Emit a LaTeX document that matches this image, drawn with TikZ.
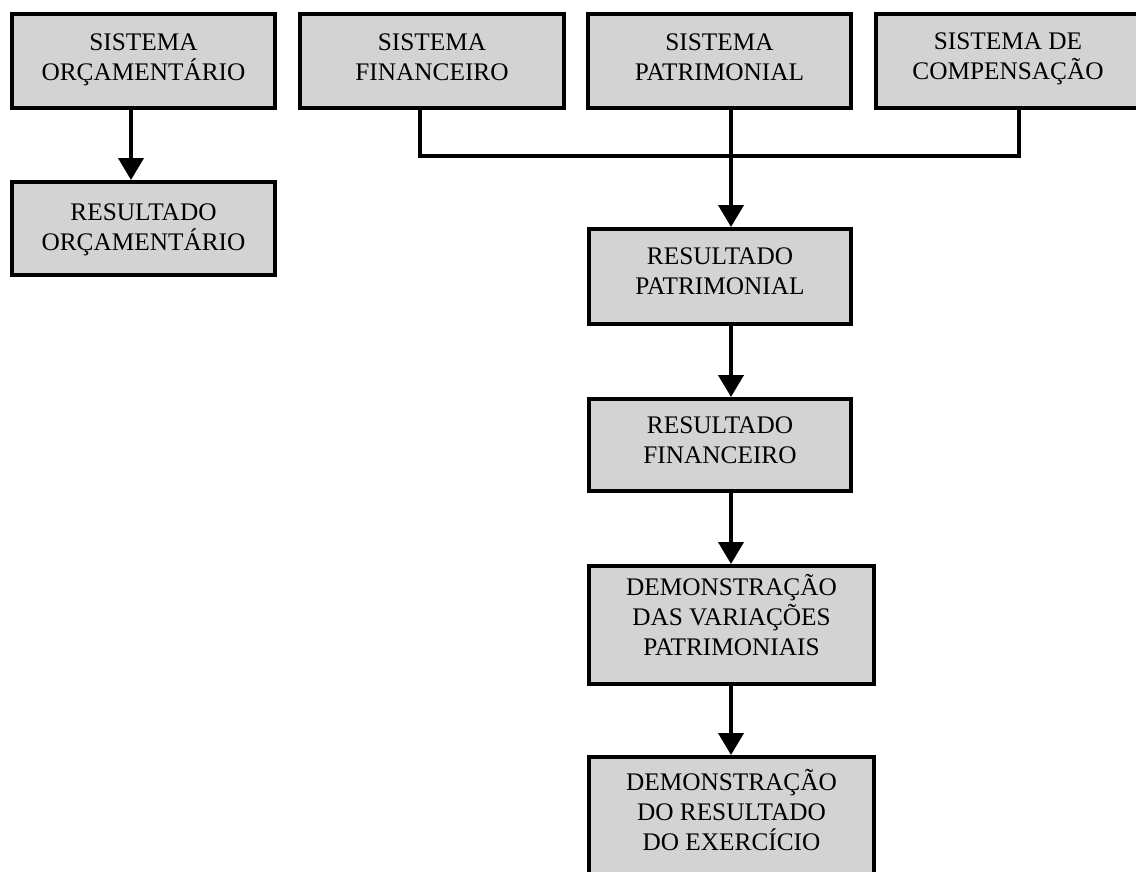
\documentclass[tikz,border=0pt]{standalone}
\usepackage{fontspec}
\setmainfont{Liberation Serif}
\usetikzlibrary{arrows.meta}
\definecolor{boxfill}{RGB}{211,211,211}
\tikzset{
  stage/.style={draw=black, fill=boxfill, line width=4pt, rectangle, inner sep=0pt},
  % anchored at the baseline of the last line
  lbl/.style={align=center, anchor=base, inner sep=0pt,
    font=\fontsize{25.3}{30}\selectfont},
  flow/.style={line width=4pt, -{Triangle[width=25pt,length=22pt]}},
  link/.style={line width=4pt, line join=miter}
}
\begin{document}
\begin{tikzpicture}[x=1pt, y=-1pt]
\useasboundingbox (0,0) rectangle (1136,871);
\clip (0,0) rectangle (1136,871);

% boxes
\node[stage, minimum width=263, minimum height=94] (so)  at (143.5,61)  {};
\node[stage, minimum width=263, minimum height=93] (ro)  at (143.5,228.5) {};
\node[stage, minimum width=264, minimum height=94] (sf)  at (432,61)    {};
\node[stage, minimum width=263, minimum height=94] (sp)  at (719.5,61)  {};
\node[stage, minimum width=264, minimum height=94] (sc)  at (1008,61)   {};
\node[stage, minimum width=262, minimum height=95] (rp)  at (720,276.5) {};
\node[stage, minimum width=262, minimum height=92] (rf)  at (720,445)   {};
\node[stage, minimum width=285, minimum height=118] (dvp) at (731.5,625) {};
\node[stage, minimum width=285, minimum height=118] (dre) at (731.5,816) {};

% texts
\node[lbl] (tso)  at (143.5,80)  {SISTEMA\\ORÇAMENTÁRIO};
\node[lbl] (tro)  at (143.5,250) {RESULTADO\\ORÇAMENTÁRIO};
\node[lbl] (tsf)  at (432,80)    {SISTEMA\\FINANCEIRO};
\node[lbl] (tsp)  at (719.5,80)  {SISTEMA\\PATRIMONIAL};
\node[lbl] (tsc)  at (1008,79)   {SISTEMA DE\\COMPENSAÇÃO};
\node[lbl] (trp)  at (720,294)   {RESULTADO\\PATRIMONIAL};
\node[lbl] (trf)  at (720,463)   {RESULTADO\\FINANCEIRO};
\node[lbl] (tdvp) at (731.5,655) {DEMONSTRAÇÃO\\DAS VARIAÇÕES\\PATRIMONIAIS};
\node[lbl] (tdre) at (731.5,850) {DEMONSTRAÇÃO\\DO RESULTADO\\DO EXERCÍCIO};

% connector positions
\coordinate (xo) at (131,0);
\coordinate (xf) at (420,0);
\coordinate (xc) at (1019,0);
\coordinate (xm) at (731,0);
\coordinate (bus) at (0,156);

\draw[flow] (so.south -| xo) -- (ro.north -| xo);
\draw[link] (sf.south -| xf) |- (bus -| xc) -- (sc.south -| xc);
\draw[flow] (sp.south -| xm) -- (rp.north -| xm);
\draw[flow] (rp.south -| xm) -- (rf.north -| xm);
\draw[flow] (rf.south -| xm) -- (dvp.north -| xm);
\draw[flow] (dvp.south -| xm) -- (dre.north -| xm);
\end{tikzpicture}
\end{document}
